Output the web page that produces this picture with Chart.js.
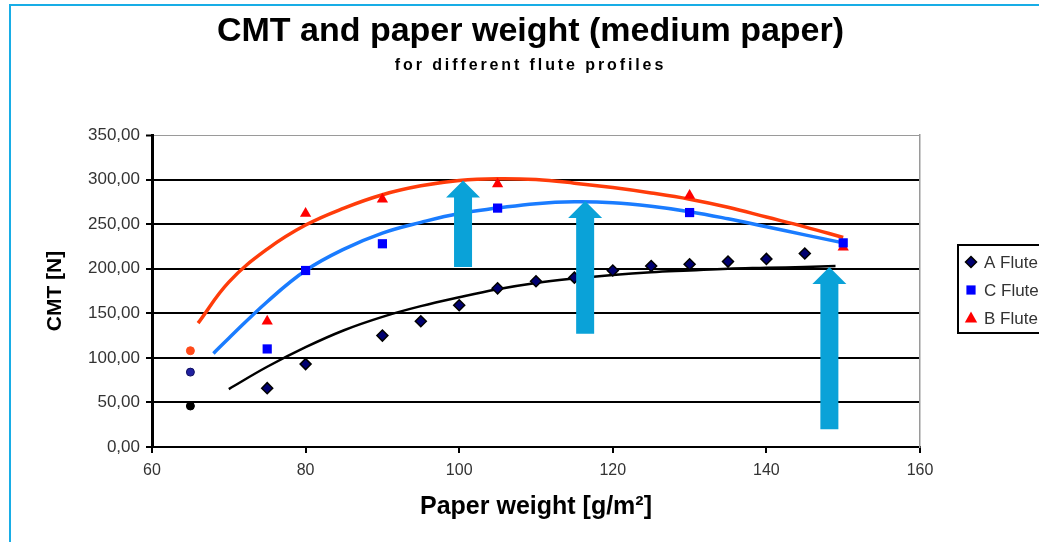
<!DOCTYPE html>
<html>
<head>
<meta charset="utf-8">
<title>CMT and paper weight</title>
<script src="https://cdn.jsdelivr.net/npm/chart.js@4/dist/chart.umd.min.js"></script>
<style>
  html, body { margin: 0; padding: 0; background: #fff; overflow: hidden; }
  #wrap { position: relative; width: 1039px; height: 542px; }
  #frame { position: absolute; left: 9px; top: 4px; width: 1200px; height: 700px;
           border-left: 2px solid #18ade6; border-top: 2px solid #18ade6; pointer-events: none; }
</style>
</head>
<body>
<div id="wrap">
  <canvas id="cmt" width="1039" height="542"></canvas>
  <div id="frame"></div>
</div>
<script>
        // measured points
        const aX = [75, 80, 90, 95, 100, 105, 110, 115, 120, 125, 130, 135, 140, 145];
        const aY = [66, 93, 125, 141, 159, 178, 186, 190, 198, 203, 205, 208, 211, 217];
        const cX = [75, 80, 90, 105, 130, 150];
        const cY = [110, 198, 228, 268, 263, 229];
        const bX = [75, 80, 90, 105, 130, 150];
        const bY = [141, 262, 278, 295, 282, 224];

        // the three loose points at 65 g/m2
        const startX = [65, 65, 65];
        const startY = [46, 84, 108];

        // trend lines
        const bTrendX = [66, 70, 75, 80, 85, 90, 95, 100, 105, 110, 115, 120, 125, 130, 135, 140, 145, 150];
        const bTrendY = [139, 185, 222, 249, 268, 283, 293, 299, 301, 300, 296, 291, 285, 278, 269, 258, 247, 235];
        const cTrendX = [68, 70, 75, 80, 85, 90, 95, 100, 105, 110, 115, 120, 125, 130, 135, 140, 145, 150];
        const cTrendY = [105, 122, 163, 198, 222, 240, 252, 262, 268, 273, 275, 274, 270, 264, 256, 247, 238, 229];
        const aTrendX = [70, 75, 80, 85, 90, 95, 100, 105, 110, 115, 120, 125, 130, 135, 140, 145, 149];
        const aTrendY = [65, 90, 112, 131, 146, 158, 168, 177, 184, 189, 193, 196, 198, 200, 201, 202, 203];

        // highlight arrows (x, from y, to y) in data units
        const arrowX = [100.5, 116.4, 148.2];
        const arrowFrom = [202, 127, 20];
        const arrowTo = [299, 276, 202];

        const xTicks = [60, 80, 100, 120, 140, 160];
        const yTicks = [0, 50, 100, 150, 200, 250, 300, 350];

        const titleText = 'CMT and paper weight (medium paper)';
        const subtitleText = 'for different flute profiles';
        const seriesNames = ['A Flute', 'C Flute', 'B Flute'];

        const FONT = "'Liberation Sans', Arial, sans-serif";
        const toXY = (xs, ys) => xs.map((x, i) => ({x: x, y: ys[i]}));

        const arrowPlugin = {
            id: 'arrows',
            afterDatasetsDraw(chart) {
                const ctx = chart.ctx;
                const xs = chart.scales.x, ys = chart.scales.y;
                ctx.save();
                ctx.fillStyle = '#0aa2d8';
                arrowX.forEach((v, i) => {
                    const px = xs.getPixelForValue(v);
                    const y0 = ys.getPixelForValue(arrowFrom[i]);
                    const y1 = ys.getPixelForValue(arrowTo[i]);
                    const shaft = 9, head = 17, headLen = 17;
                    ctx.beginPath();
                    ctx.moveTo(px - shaft, y0);
                    ctx.lineTo(px - shaft, y1 + headLen);
                    ctx.lineTo(px - head, y1 + headLen);
                    ctx.lineTo(px, y1);
                    ctx.lineTo(px + head, y1 + headLen);
                    ctx.lineTo(px + shaft, y1 + headLen);
                    ctx.lineTo(px + shaft, y0);
                    ctx.closePath();
                    ctx.fill();
                });
                ctx.restore();
            }
        };

        function drawMarker(ctx, style, r, x, y) {
            if (style === 'rectRot') {
                ctx.moveTo(x, y - r); ctx.lineTo(x + r, y); ctx.lineTo(x, y + r); ctx.lineTo(x - r, y); ctx.closePath();
            } else if (style === 'rect') {
                const s = r * Math.SQRT1_2;
                ctx.rect(x - s, y - s, 2 * s, 2 * s);
            } else {
                ctx.moveTo(x, y - r); ctx.lineTo(x + r * 0.95, y + r * 0.7); ctx.lineTo(x - r * 0.95, y + r * 0.7); ctx.closePath();
            }
        }

        const legendPlugin = {
            id: 'legendBox',
            afterDraw(chart) {
                const ctx = chart.ctx;
                const area = chart.chartArea;
                const left = area.right + 38;
                const mid = (area.top + area.bottom) / 2;
                const top = mid - 46;
                ctx.save();
                ctx.strokeStyle = '#000';
                ctx.lineWidth = 2;
                ctx.strokeRect(left, top, 140, 88);
                ctx.font = '17px ' + FONT;
                ctx.textBaseline = 'middle';
                [0, 1, 2].forEach(i => {
                    const ds = chart.data.datasets[i];
                    const y = top + 17 + i * 28;
                    ctx.fillStyle = ds.backgroundColor;
                    ctx.strokeStyle = ds.borderColor;
                    ctx.lineWidth = ds.borderWidth;
                    ctx.beginPath();
                    drawMarker(ctx, ds.pointStyle, ds.pointRadius, left + 13, y);
                    ctx.fill();
                    if (ds.borderWidth) ctx.stroke();
                    ctx.fillStyle = '#333';
                    ctx.fillText(ds.label, left + 26, y + 1);
                });
                ctx.restore();
            }
        };

        // subtitle is letter-spaced in the original
        const spacingPlugin = {
            id: 'spacing',
            afterLayout(chart) {
                chart.boxes.forEach(b => {
                    if (b.options && b.options.text === subtitleText && !b._spaced) {
                        const orig = b.draw;
                        b.draw = function () {
                            const ctx = this.ctx;
                            ctx.save();
                            ctx.letterSpacing = '2.9px';
                            orig.apply(this, arguments);
                            ctx.restore();
                        };
                        b._spaced = true;
                    }
                });
            }
        };

        const ctx = document.getElementById('cmt').getContext('2d');
        new Chart(ctx, {
            type: 'scatter',
            data: {
                datasets: [
                    {
                        label: seriesNames[0],
                        data: toXY(aX, aY),
                        pointStyle: 'rectRot',
                        pointRadius: 5.5,
                        backgroundColor: '#000070',
                        borderColor: '#000',
                        borderWidth: 1.5
                    },
                    {
                        label: seriesNames[1],
                        data: toXY(cX, cY),
                        pointStyle: 'rect',
                        pointRadius: 6.5,
                        backgroundColor: '#0000ff',
                        borderColor: '#0000ff',
                        borderWidth: 0
                    },
                    {
                        label: seriesNames[2],
                        data: toXY(bX, bY),
                        pointStyle: 'triangle',
                        pointRadius: 6.5,
                        backgroundColor: '#ff0000',
                        borderColor: '#ff0000',
                        borderWidth: 0
                    },
                    {
                        label: 'start',
                        data: toXY(startX, startY),
                        pointStyle: 'circle',
                        pointRadius: 4,
                        backgroundColor: ['#000', '#2020a0', '#ff4a1a'],
                        borderColor: ['#000', '#101060', '#ff4a1a'],
                        borderWidth: 1
                    },
                    {
                        label: 'A trend',
                        data: toXY(aTrendX, aTrendY),
                        showLine: true,
                        pointRadius: 0,
                        borderColor: '#000',
                        borderWidth: 2.5,
                        tension: 0.4
                    },
                    {
                        label: 'C trend',
                        data: toXY(cTrendX, cTrendY),
                        showLine: true,
                        pointRadius: 0,
                        borderColor: '#1a7cff',
                        borderWidth: 3.5,
                        tension: 0.4
                    },
                    {
                        label: 'B trend',
                        data: toXY(bTrendX, bTrendY),
                        showLine: true,
                        pointRadius: 0,
                        borderColor: '#ff3c0a',
                        borderWidth: 3.5,
                        tension: 0.4
                    }
                ]
            },
            options: {
                responsive: false,
                animation: false,
                events: [],
                layout: { padding: { left: 22, right: 0, top: 0, bottom: 0 } },
                plugins: {
                    legend: { display: false },
                    tooltip: { enabled: false },
                    title: {
                        display: true,
                        text: titleText,
                        color: '#000',
                        font: { family: FONT, size: 34, weight: 'bold' },
                        padding: { top: 11, bottom: 0 }
                    },
                    subtitle: {
                        display: true,
                        text: subtitleText,
                        color: '#000',
                        font: { family: FONT, size: 16, weight: 'bold' },
                        padding: { top: 4, bottom: 60 }
                    }
                },
                scales: {
                    x: {
                        type: 'linear',
                        min: 60,
                        max: 160,
                        afterBuildTicks: s => { s.ticks = xTicks.map(v => ({value: v})); },
                        afterFit: s => { s.height = 95; },
                        grid: { drawOnChartArea: false, color: '#000', lineWidth: 2, tickLength: 6 },
                        border: { color: '#000', width: 2 },
                        ticks: { color: '#333', padding: 8, maxRotation: 0, font: { family: FONT, size: 16 } },
                        title: {
                            display: true,
                            text: 'Paper weight [g/m²]',
                            color: '#000',
                            font: { family: FONT, size: 25, weight: 'bold' },
                            padding: { top: 0, bottom: 20 }
                        }
                    },
                    y: {
                        min: 0,
                        max: 350,
                        afterBuildTicks: s => { s.ticks = yTicks.map(v => ({value: v})); },
                        afterFit: s => { s.width = 130; },
                        grid: {
                            color: c => c.tick && c.tick.value === 350 ? '#9a9a9a' : '#000',
                            lineWidth: c => c.tick && c.tick.value === 350 ? 1 : 2,
                            tickColor: '#000',
                            tickWidth: 2,
                            tickLength: 6
                        },
                        border: { color: '#000', width: 3 },
                        ticks: {
                            color: '#333',
                            padding: 6,
                            font: { family: FONT, size: 17 },
                            callback: v => v.toFixed(2).replace('.', ',')
                        },
                        title: {
                            display: true,
                            text: 'CMT [N]',
                            color: '#000',
                            font: { family: FONT, size: 21, weight: 'bold' },
                            padding: { top: 21, bottom: 0 }
                        }
                    },
                    y2: {
                        position: 'right',
                        min: 0,
                        max: 1,
                        afterFit: s => { s.width = 119; },
                        grid: { drawOnChartArea: false, drawTicks: false },
                        border: { color: '#9a9a9a', width: 1.5 },
                        ticks: { display: false }
                    }
                }
            },
            plugins: [arrowPlugin, legendPlugin, spacingPlugin]
        });
</script>
</body>
</html>
